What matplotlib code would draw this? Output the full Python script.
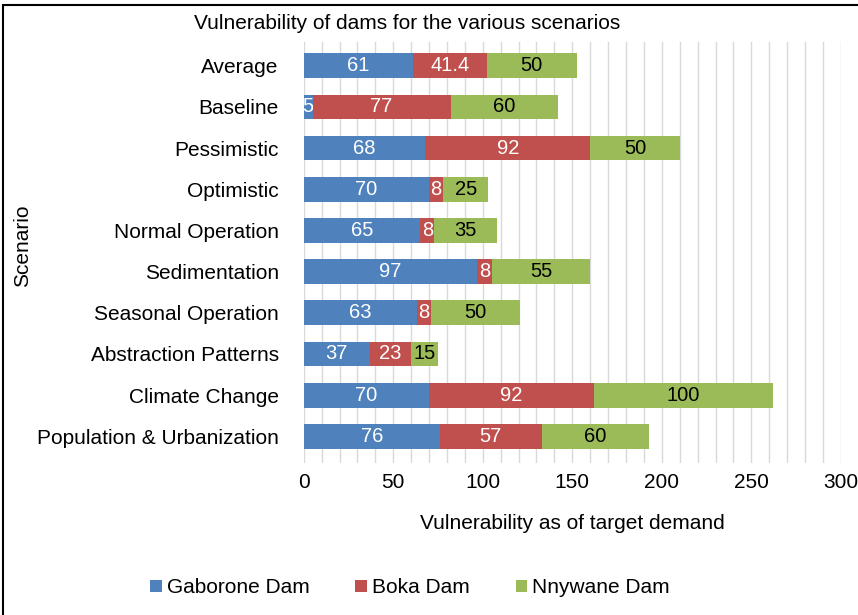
import matplotlib.pyplot as plt
from matplotlib.patches import Rectangle
import numpy as np

plt.rcParams['font.family'] = ['Liberation Sans', 'DejaVu Sans']

scenarios = ['Average', 'Baseline', 'Pessimistic', 'Optimistic', 'Normal Operation',
             'Sedimentation', 'Seasonal Operation', 'Abstraction Patterns',
             'Climate Change', 'Population & Urbanization']
gaborone = [61, 5, 68, 70, 65, 97, 63, 37, 70, 76]
boka = [41.4, 77, 92, 8, 8, 8, 8, 23, 92, 57]
nnywane = [50, 60, 50, 25, 35, 55, 50, 15, 100, 60]
series_names = ['Gaborone Dam', 'Boka Dam', 'Nnywane Dam']
colors = ['#4F81BD', '#C0504D', '#9BBB59']
text_colors = ['white', 'white', 'black']

fig = plt.figure(figsize=(8.58, 6.15), dpi=100)
ax = fig.add_axes([0.354, 0.247, 0.626, 0.685])

y = np.arange(len(scenarios))
left = np.zeros(len(scenarios))
for vals, name, c, tc in zip([gaborone, boka, nnywane], series_names, colors, text_colors):
    bars = ax.barh(y, vals, left=left, height=0.6, color=c, label=name, zorder=3)
    labels = [('%g' % v) for v in vals]
    ax.bar_label(bars, labels=labels, label_type='center', color=tc, fontsize=14.5)
    left = left + np.array(vals)

ax.set_xlim(0, 300)
ax.set_ylim(9.65, -0.58)
ax.set_yticks(y)
ax.set_yticklabels(scenarios, fontsize=15)
ax.set_xticks(np.arange(0, 301, 50))
ax.set_xticks(np.arange(0, 301, 10), minor=True)
ax.tick_params(axis='x', labelsize=15, length=0, which='both', pad=7)
ax.tick_params(axis='y', length=0, pad=18)
ax.grid(axis='x', which='both', color='#d9d9d9', linewidth=1, zorder=0)
for s in ax.spines.values():
    s.set_visible(False)
ax.set_xlabel('Vulnerability as of target demand', fontsize=15, labelpad=16)

fig.text(0.026, 0.60, 'Scenario', rotation=90, fontsize=15, va='center', ha='center')
fig.text(0.474, 0.962, 'Vulnerability of dams for the various scenarios', fontsize=15,
         ha='center', va='center')

fig.legend(loc='center', bbox_to_anchor=(0.478, 0.044), ncol=3, frameon=False,
           fontsize=15, handlelength=0.55, handleheight=0.55, handletextpad=0.25,
           columnspacing=2.2)

fig.patches.append(Rectangle((0.004, -0.01), 1.0, 1.002, transform=fig.transFigure,
                             fill=False, edgecolor='black', linewidth=1.5))

fig.savefig('out.png', dpi=100)
